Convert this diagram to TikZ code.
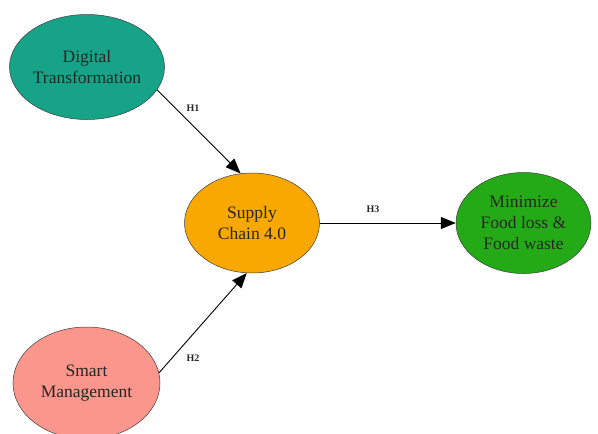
\documentclass[tikz,border=0pt]{standalone}
\usepackage{fontspec}
\setmainfont{Liberation Serif}
\usetikzlibrary{shapes.geometric,arrows.meta}
\definecolor{dtcol}{RGB}{22,163,135}
\definecolor{sccol}{RGB}{248,168,0}
\definecolor{mfcol}{RGB}{36,170,22}
\definecolor{smcol}{RGB}{250,150,140}
\definecolor{edgecol}{RGB}{60,60,60}
\tikzset{
  concept/.style={ellipse, draw=edgecol, line width=0.5pt, inner sep=0pt,
    align=center, font=\fontsize{17.5}{21}\selectfont, text=black!85},
  arr/.style={-{Triangle[length=15pt,width=12pt]}, line width=0.9pt, black},
  hlabel/.style={font=\bfseries\fontsize{10}{12}\selectfont, text=black!85, inner sep=0pt}
}
\begin{document}
\begin{tikzpicture}[x=1pt,y=-1pt]
\useasboundingbox (0,0) rectangle (598,434);
\node[concept, fill=dtcol, minimum width=155pt, minimum height=105pt] (dt) at (87,67) {Digital\\Transformation};
\node[concept, fill=sccol, minimum width=135pt, minimum height=100pt] (sc) at (252,223) {Supply\\Chain 4.0};
\node[concept, fill=mfcol, minimum width=135pt, minimum height=101pt] (mf) at (523.5,223) {Minimize\\Food loss \&\\Food waste};
\node[concept, fill=smcol, minimum width=147pt, minimum height=112pt] (sm) at (86.5,383) {Smart\\Management};
\draw[arr] (dt.-18) -- (sc.103);
\draw[arr] (sm.8) -- (sc.-96);
\draw[arr] (sc.east) -- (mf.west);
\node[hlabel] (h1) at (193,108) {H1};
\node[hlabel] (h2) at (193,358) {H2};
\node[hlabel] (h3) at (373,209) {H3};
\end{tikzpicture}
\end{document}
